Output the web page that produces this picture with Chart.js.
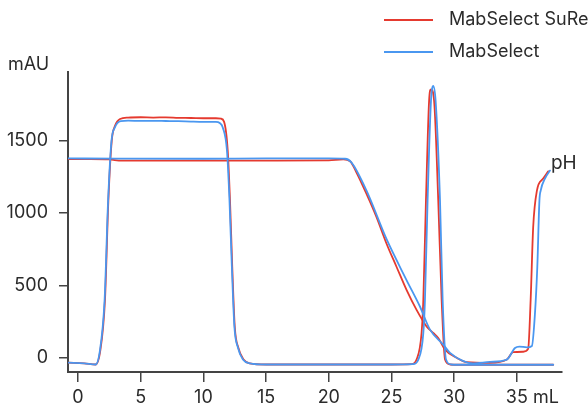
<!DOCTYPE html>
<html>
<head>
<meta charset="utf-8">
<script src="https://cdn.jsdelivr.net/npm/chart.js@4/dist/chart.umd.min.js"></script>
<style>
  html, body { margin: 0; padding: 0; background: #ffffff; }
  #wrap { width: 588px; height: 406px; position: relative; }
</style>
</head>
<body>
<div id="wrap"><canvas id="c" width="588" height="406"></canvas></div>
<script>
// ---- Data ----
const seriesNames = ["MabSelect SuRe", "MabSelect"];

// UV absorbance, MabSelect SuRe (red)
const sureUvX = [-0.8, 0.5, 1.4, 1.75, 2.15, 2.42, 2.69, 2.95, 3.35, 4, 5, 6, 7, 8, 9, 10, 11, 11.4, 11.65, 11.94, 12.12, 12.3, 12.5, 12.78, 13.2, 13.7, 15, 20, 25, 26.6, 27.0, 27.4, 27.54, 27.75, 28.0, 28.15, 28.4, 28.73, 29.0, 29.27, 29.66, 31, 35, 37.9];
const sureUvY = [-35, -40, -48, 34, 400, 1087, 1500, 1603, 1650, 1660, 1662, 1660, 1661, 1658, 1657, 1655, 1655, 1652, 1630, 1430, 1087, 628, 215, 69, -14, -40, -48, -48, -48, -46, -14, 170, 400, 1087, 1775, 1855, 1775, 1087, 400, -14, -48, -50, -50, -50];

// UV absorbance, MabSelect (blue)
const msUvX = [-0.8, 0.5, 1.4, 1.72, 2.12, 2.4, 2.67, 2.93, 3.4, 4, 5, 6, 7, 8, 9, 10, 11, 11.3, 11.55, 11.88, 12.08, 12.27, 12.47, 12.75, 13.15, 13.7, 15, 20, 25, 26.7, 27.14, 27.54, 27.67, 27.88, 28.15, 28.33, 28.52, 28.87, 29.08, 29.35, 29.75, 31, 35, 37.9];
const msUvY = [-35, -40, -48, 34, 400, 1087, 1500, 1590, 1635, 1638, 1637, 1637, 1636, 1635, 1632, 1630, 1630, 1622, 1590, 1430, 1087, 628, 215, 69, -14, -40, -48, -48, -48, -46, -14, 170, 400, 1087, 1775, 1878, 1775, 1087, 400, -14, -48, -50, -50, -50];

// pH trace, MabSelect SuRe (red)
const surePhX = [-0.8, 1, 2.5, 3.5, 10, 15, 20, 21.16, 21.7, 22.2, 23.0, 23.8, 24.6, 25.4, 26.2, 27.0, 27.8, 28.33, 28.73, 29.27, 30.2, 31.0, 32.85, 34.2, 34.7, 35.5, 35.9, 36.1, 36.3, 36.6, 37.1, 37.5];
const surePhY = [1373, 1373, 1370, 1362, 1362, 1362, 1364, 1370, 1358, 1281, 1133, 972, 789, 628, 468, 330, 215, 170, 135, 55, -2, -32, -37, -14, 37, 40, 60, 400, 900, 1155, 1238, 1288];

// pH trace, MabSelect (blue)
const msPhX = [-0.8, 3, 10, 15, 20, 21.3, 21.8, 23.0, 24.6, 26.2, 27.27, 28.07, 29.13, 29.67, 30.73, 31.5, 32.85, 34.2, 34.85, 35.2, 35.8, 36.2, 36.44, 36.63, 36.8, 36.9, 37.24, 37.64];
const msPhY = [1377, 1376, 1375, 1377, 1377, 1375, 1350, 1156, 820, 536, 353, 193, 89, 32, -25, -41, -30, -14, 66, 76, 70, 80, 300, 626, 1087, 1155, 1238, 1293];

// Axes
const xTicks = [0, 5, 10, 15, 20, 25, 30, 35];
const xTickLabels = ["0", "5", "10", "15", "20", "25", "30", "35"];
const xUnit = "mL";
const yTicks = [0, 500, 1000, 1500];
const yTickLabels = ["0", "500", "1000", "1500"];
const yUnit = "mAU";
const phLabel = "pH";

// ---- Styles ----
const RED = "#e53a2f";
const BLUE = "#4a97f0";
const TEXT = "#2b2b2b";
const AXIS = "#444444";
const FONT = "Inter, Roboto, sans-serif";

function pts(xs, ys) { return xs.map((x, i) => ({ x: x, y: ys[i] })); }

const lineBase = {
  fill: false,
  pointRadius: 0,
  borderWidth: 1.8,
  cubicInterpolationMode: 'monotone',
  borderJoinStyle: 'round',
  borderCapStyle: 'round'
};

const overlay = {
  id: 'overlay',
  afterDraw(chart) {
    const ctx = chart.ctx;
    ctx.save();
    // y unit
    ctx.fillStyle = TEXT;
    ctx.font = "18px " + FONT;
    ctx.textAlign = 'left';
    ctx.textBaseline = 'alphabetic';
    ctx.fillText(yUnit, 8, 70);

    // legend
    const legendY = [20, 52];
    const legendColors = [RED, BLUE];
    ctx.font = "18px " + FONT;
    ctx.textBaseline = 'middle';
    for (let i = 0; i < seriesNames.length; i++) {
      ctx.strokeStyle = legendColors[i];
      ctx.lineWidth = 2;
      ctx.beginPath();
      ctx.moveTo(384, legendY[i]);
      ctx.lineTo(433, legendY[i]);
      ctx.stroke();
      ctx.fillStyle = TEXT;
      ctx.fillText(seriesNames[i], 449, legendY[i]);
    }

    // pH label at end of the pH trace
    const xs = chart.scales.x, ys = chart.scales.y;
    const lx = xs.getPixelForValue(msPhX[msPhX.length - 1]);
    const ly = ys.getPixelForValue(msPhY[msPhY.length - 1]);
    ctx.fillStyle = TEXT;
    ctx.font = "19px " + FONT;
    ctx.textBaseline = 'alphabetic';
    ctx.fillText(phLabel, lx + 1, ly - 2);

    // x unit after the last tick label
    const items = xs.getLabelItems();
    const last = items[items.length - 1];
    if (last) {
      ctx.font = last.font.string;
      const w = ctx.measureText(last.label).width;
      ctx.textAlign = 'left';
      ctx.textBaseline = last.options.textBaseline;
      ctx.fillStyle = TEXT;
      ctx.fillText(" " + xUnit, last.options.translation[0] + w / 2, last.options.translation[1] + last.textOffset);
    }
    ctx.restore();
  }
};

new Chart(document.getElementById('c'), {
  type: 'line',
  data: {
    datasets: [
      Object.assign({ label: seriesNames[1] + " UV", data: pts(msUvX, msUvY), borderColor: BLUE, order: 0 }, lineBase),
      Object.assign({ label: seriesNames[1] + " pH", data: pts(msPhX, msPhY), borderColor: BLUE, order: 1 }, lineBase),
      Object.assign({ label: seriesNames[0] + " UV", data: pts(sureUvX, sureUvY), borderColor: RED, order: 2 }, lineBase),
      Object.assign({ label: seriesNames[0] + " pH", data: pts(surePhX, surePhY), borderColor: RED, order: 3 }, lineBase)
    ]
  },
  options: {
    responsive: false,
    animation: false,
    devicePixelRatio: 1,
    layout: { padding: { top: 72, right: 26, left: 0, bottom: 0 } },
    plugins: { legend: { display: false }, tooltip: { enabled: false } },
    scales: {
      x: {
        type: 'linear',
        min: -0.8,
        max: 38.6,
        afterBuildTicks: (s) => { s.ticks = xTicks.map(v => ({ value: v })); },
        afterFit: (s) => { s.height = 34; },
        grid: { display: true, drawOnChartArea: false, drawTicks: true, tickLength: 10, color: AXIS, lineWidth: 1.5 },
        border: { display: true, color: AXIS, width: 2 },
        ticks: {
          autoSkip: false, maxRotation: 0, padding: 5, color: TEXT,
          font: { family: FONT, size: 18 },
          callback: (v) => { const i = xTicks.indexOf(v); return i >= 0 ? xTickLabels[i] : ''; }
        }
      },
      y: {
        type: 'linear',
        min: -100,
        max: 1975,
        afterBuildTicks: (s) => { s.ticks = yTicks.map(v => ({ value: v })); },
        afterFit: (s) => { s.width = 68; },
        grid: { display: true, drawOnChartArea: false, drawTicks: true, tickLength: 9, color: AXIS, lineWidth: 1.5 },
        border: { display: true, color: AXIS, width: 2 },
        ticks: {
          padding: 11, color: TEXT,
          font: { family: FONT, size: 18 },
          callback: (v) => { const i = yTicks.indexOf(v); return i >= 0 ? yTickLabels[i] : ''; }
        }
      }
    }
  },
  plugins: [overlay]
});
</script>
</body>
</html>
